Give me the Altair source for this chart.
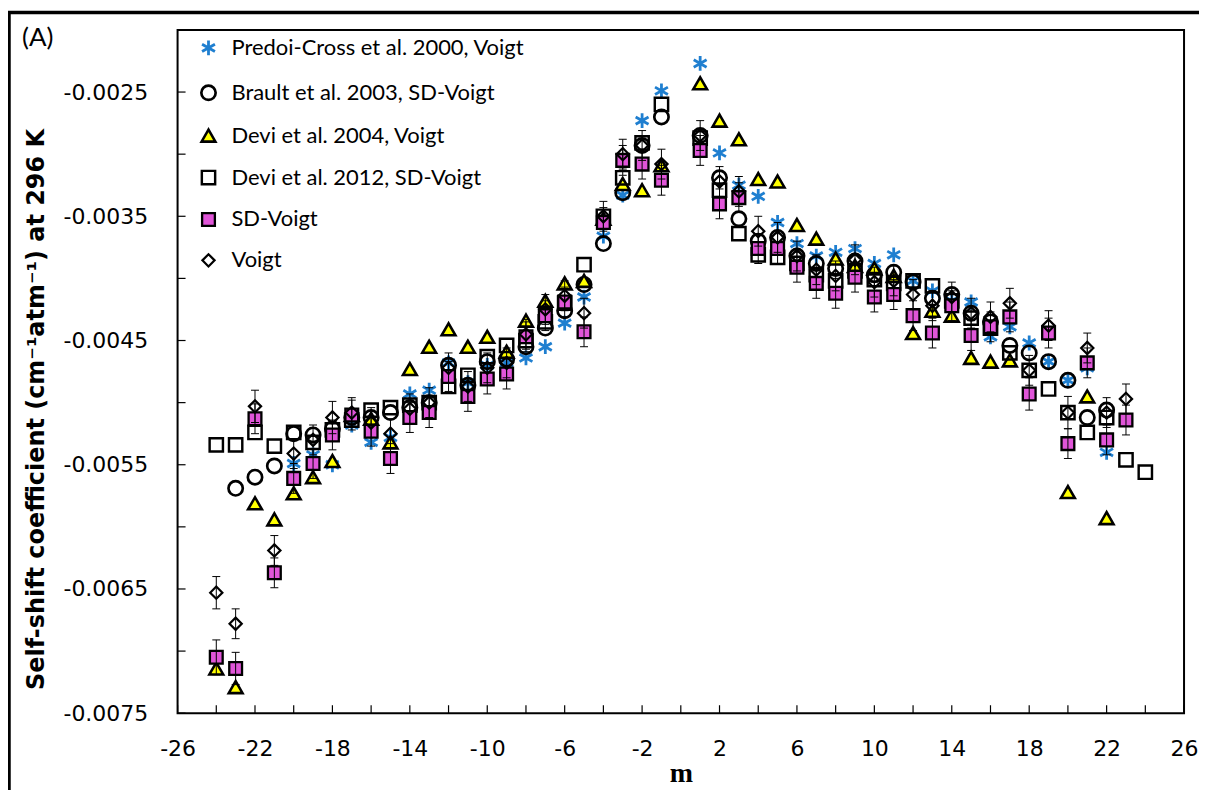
import altair as alt
import pandas as pd

# ---------------- data ----------------
SERIES = [
    "Predoi-Cross et al. 2000, Voigt",
    "Brault et al. 2003, SD-Voigt",
    "Devi et al. 2004, Voigt",
    "Devi et al. 2012, SD-Voigt",
    "SD-Voigt",
    "Voigt",
]

pc_m = [-20, -19, -18, -17, -16, -15, -14, -13, -12, -11, -10, -9, -8, -7, -6, -5, -4, -3, -2, -1,
        1, 2, 3, 4, 5, 6, 7, 8, 9, 10, 11, 12, 13, 14, 15, 16, 17, 18, 19, 20, 21, 22]
pc_v = [-0.00549, -0.00542, -0.00550, -0.00518, -0.00532, -0.00528, -0.00493, -0.00490, -0.00468, -0.00484,
        -0.00470, -0.00468, -0.00464, -0.00455, -0.00436, -0.00415, -0.00366, -0.00333, -0.00273, -0.00249,
        -0.00227, -0.00299, -0.00325, -0.00334, -0.00355, -0.00372, -0.00382, -0.00379, -0.00376, -0.00388,
        -0.00381, -0.00402, -0.00410, -0.00418, -0.00419, -0.00447, -0.00439, -0.00452, -0.00467, -0.00482,
        -0.00472, -0.00540]

br_m = [-23, -22, -21, -20, -19, -18, -17, -16, -15, -14, -13, -12, -11, -10, -9, -8, -7, -6, -5, -4, -3, -2, -1,
        1, 2, 3, 4, 5, 6, 7, 8, 9, 10, 11, 12, 13, 14, 15, 16, 17, 18, 19, 20, 21, 22]
br_v = [-0.00569, -0.00560, -0.00551, -0.00525, -0.00526, -0.00521, -0.00512, -0.00512, -0.00508, -0.00504,
        -0.00500, -0.00470, -0.00486, -0.00467, -0.00465, -0.00455, -0.00440, -0.00426, -0.00405, -0.00372,
        -0.00331, -0.00293, -0.00270,
        -0.00285, -0.00319, -0.00352, -0.00370, -0.00367, -0.00382, -0.00388, -0.00392, -0.00386, -0.00397,
        -0.00395, -0.00403, -0.00416, -0.00413, -0.00428, -0.00435, -0.00454, -0.00460, -0.00467, -0.00482,
        -0.00512, -0.00506]

d04_m = [-24, -23, -22, -21, -20, -19, -18, -17, -16, -15, -14, -13, -12, -11, -10, -9, -8, -7, -6, -5, -4, -3, -2, -1,
         1, 2, 3, 4, 5, 6, 7, 8, 9, 10, 11, 12, 13, 14, 15, 16, 17, 20, 21, 22]
d04_v = [-0.00714, -0.00729, -0.00581, -0.00594, -0.00573, -0.00560, -0.00547, -0.00510, -0.00513, -0.00532,
         -0.00473, -0.00455, -0.00441, -0.00455, -0.00447, -0.00459, -0.00434, -0.00418, -0.00404, -0.00402,
         -0.00352, -0.00324, -0.00329, -0.00309,
         -0.00243, -0.00273, -0.00288, -0.00320, -0.00322, -0.00357, -0.00368, -0.00384, -0.00390, -0.00392,
         -0.00398, -0.00444, -0.00426, -0.00430, -0.00464, -0.00467, -0.00466, -0.00572, -0.00495, -0.00593]

d12_m = [-24, -23, -22, -21, -20, -19, -18, -17, -16, -15, -14, -13, -12, -11, -10, -9, -8, -7, -6, -5, -4, -3, -2, -1,
         1, 2, 3, 4, 5, 6, 7, 8, 9, 10, 11, 12, 13, 14, 15, 16, 17, 18, 19, 20, 21, 22, 23, 24]
d12_v = [-0.00534, -0.00534, -0.00524, -0.00535, -0.00524, -0.00532, -0.00522, -0.00514, -0.00506, -0.00504,
         -0.00502, -0.00500, -0.00487, -0.00478, -0.00463, -0.00454, -0.00450, -0.00435, -0.00420, -0.00389,
         -0.00350, -0.00319, -0.00291, -0.00260,
         -0.00287, -0.00329, -0.00364, -0.00381, -0.00383, -0.00388, -0.00397, -0.00402, -0.00394, -0.00401,
         -0.00404, -0.00402, -0.00406, -0.00418, -0.00432, -0.00440, -0.00460, -0.00474, -0.00489, -0.00508,
         -0.00524, -0.00512, -0.00546, -0.00556]

sd_m = [-24, -23, -22, -21, -20, -19, -18, -17, -16, -15, -14, -13, -12, -11, -10, -9, -8, -7, -6, -5, -4, -3, -2, -1,
        1, 2, 3, 4, 5, 6, 7, 8, 9, 10, 11, 12, 13, 14, 15, 16, 17, 18, 19, 20, 21, 22, 23]
sd_v = [-0.00705, -0.00714, -0.00513, -0.00637, -0.00561, -0.00549, -0.00526, -0.00510, -0.00523, -0.00545,
        -0.00512, -0.00508, -0.00479, -0.00495, -0.00481, -0.00477, -0.00447, -0.00430, -0.00419, -0.00443,
        -0.00355, -0.00305, -0.00308, -0.00321,
        -0.00297, -0.00340, -0.00335, -0.00376, -0.00376, -0.00391, -0.00404, -0.00412, -0.00399, -0.00415,
        -0.00413, -0.00430, -0.00444, -0.00422, -0.00446, -0.00439, -0.00431, -0.00493, -0.00444, -0.00533,
        -0.00468, -0.00530, -0.00514]
sd_err = [0.00014, 0.00013, 0.00012, 0.00012, 0.00012, 0.00012, 0.00012, 0.00012, 0.00012, 0.00012,
          0.00012, 0.00012, 0.00012, 0.00012, 0.00012, 0.00012, 0.00012, 0.00012, 0.00012, 0.00012,
          0.00012, 0.00012, 0.00012, 0.00012,
          0.00012, 0.00012, 0.00012, 0.00012, 0.00012, 0.00012, 0.00012, 0.00012, 0.00012, 0.00012,
          0.00012, 0.00012, 0.00012, 0.00012, 0.00012, 0.00012, 0.00012, 0.00013, 0.00012, 0.00012,
          0.00012, 0.00012, 0.00012]

vo_m = sd_m
vo_v = [-0.00653, -0.00678, -0.00503, -0.00619, -0.00541, -0.00530, -0.00512, -0.00508, -0.00516, -0.00525,
        -0.00505, -0.00500, -0.00472, -0.00487, -0.00472, -0.00468, -0.00445, -0.00425, -0.00414, -0.00428,
        -0.00350, -0.00300, -0.00293, -0.00308,
        -0.00285, -0.00322, -0.00330, -0.00362, -0.00367, -0.00382, -0.00393, -0.00398, -0.00385, -0.00403,
        -0.00402, -0.00413, -0.00422, -0.00415, -0.00428, -0.00431, -0.00420, -0.00474, -0.00438, -0.00508,
        -0.00456, -0.00508, -0.00497]
vo_err = [0.00013, 0.00012, 0.00013, 0.00012, 0.00012, 0.00012, 0.00013, 0.00012, 0.00012, 0.00012,
          0.00012, 0.00012, 0.00012, 0.00012, 0.00012, 0.00012, 0.00012, 0.00012, 0.00012, 0.00012,
          0.00012, 0.00012, 0.00012, 0.00012,
          0.00012, 0.00012, 0.00012, 0.00012, 0.00012, 0.00012, 0.00012, 0.00012, 0.00012, 0.00012,
          0.00012, 0.00012, 0.00012, 0.00012, 0.00012, 0.00012, 0.00012, 0.00012, 0.00012, 0.00013,
          0.00012, 0.00012, 0.00012]

X_LABELS = [-26, -22, -18, -14, -10, -6, -2, 2, 6, 10, 14, 18, 22, 26]
X_TICKS = list(range(-26, 27, 2))
Y_LABELS = [-0.0075, -0.0065, -0.0055, -0.0045, -0.0035, -0.0025]
Y_TICKS = [-0.0075, -0.007, -0.0065, -0.006, -0.0055, -0.005, -0.0045, -0.004, -0.0035, -0.003, -0.0025, -0.002]
PANEL = "(A)"
Y_TITLE = "Self-shift coefficient (cm\u207b\u00b9atm\u207b\u00b9) at 296 K"
X_TITLE = "m"

# ---------------- tables ----------------
rows = []
for name, ms, vs in [
    (SERIES[0], pc_m, pc_v), (SERIES[1], br_m, br_v), (SERIES[2], d04_m, d04_v),
    (SERIES[3], d12_m, d12_v), (SERIES[4], sd_m, sd_v), (SERIES[5], vo_m, vo_v),
]:
    for m, v in zip(ms, vs):
        rows.append({"m": m, "v": v, "series": name})
pts = pd.DataFrame(rows)

err_rows = []
for ms, vs, es in [(sd_m, sd_v, sd_err), (vo_m, vo_v, vo_err)]:
    for m, v, e in zip(ms, vs, es):
        err_rows.append({"m": m, "lo": v - e, "hi": v + e})
errs = pd.DataFrame(err_rows)

ASTERISK = "M0,-1L0,1M-0.87,-0.5L0.87,0.5M-0.87,0.5L0.87,-0.5"

W, H = 1009, 685
xs = alt.Scale(domain=[-26, 26], nice=False, zero=False)
ys = alt.Scale(domain=[-0.0075, -0.002], nice=False, zero=False)

leg = alt.Legend(title=None, orient="none", legendX=20, legendY=7, padding=0,
                 labelFont="Lato", labelFontSize=22, labelColor="black", labelLimit=500,
                 labelOffset=12, rowPadding=18)

x_axis = alt.Axis(values=X_LABELS, title=X_TITLE, titleFont="Liberation Serif", titleFontSize=28,
                  titleFontWeight="bold", titleColor="black", titleY=68, titleBaseline="alphabetic",
                  labelFont="DejaVu Sans", labelFontSize=22, labelColor="black", labelPadding=25,
                  labelFlush=False, ticks=False, tickSize=0, domain=False, grid=False,
                  labelExpr="datum.value < 0 ? '-' + format(-datum.value, 'd') : format(datum.value, 'd')")
y_axis = alt.Axis(values=Y_LABELS, title=Y_TITLE, titleFont="DejaVu Sans", titleFontSize=24,
                  titleFontWeight="bold", titleColor="black", titleX=-141, titleY=380,
                  titleAlign="center", titleBaseline="middle",
                  labelFont="DejaVu Sans", labelFontSize=22, labelColor="black", labelPadding=30,
                  labelFlush=False, ticks=False, tickSize=0, domain=False, grid=False,
                  labelExpr="datum.value < 0 ? '-' + format(-datum.value, '.4f') : format(datum.value, '.4f')")

X = lambda f: alt.X(f, scale=xs, axis=x_axis)
Y = lambda f: alt.Y(f, scale=ys, axis=y_axis)

points = alt.Chart(pts).mark_point(opacity=1, filled=False).encode(
    x=X("m:Q"),
    y=Y("v:Q"),
    shape=alt.Shape("series:N", scale=alt.Scale(domain=SERIES,
                    range=[ASTERISK, "circle", "triangle-up", "square", "square", "diamond"]), legend=leg),
    stroke=alt.Stroke("series:N", scale=alt.Scale(domain=SERIES,
                      range=["#1f7fd0", "black", "black", "black", "black", "black"]), legend=leg),
    fill=alt.Fill("series:N", scale=alt.Scale(domain=SERIES,
                  range=["transparent", "transparent", "#ffff00", "transparent", "#e055d8", "transparent"]), legend=leg),
    size=alt.Size("series:N", scale=alt.Scale(domain=SERIES, range=[220, 150, 150, 190, 170, 100]), legend=leg),
    strokeWidth=alt.StrokeWidth("series:N", scale=alt.Scale(domain=SERIES, range=[2.8, 2.2, 2.2, 2.2, 2.2, 1.8]), legend=leg),
)

err_rule = alt.Chart(errs).mark_rule(color="black", strokeWidth=1).encode(
    x=X("m:Q"), y=Y("lo:Q"), y2="hi:Q")
cap_lo = alt.Chart(errs).mark_tick(orient="horizontal", size=8, thickness=1, color="black", opacity=1).encode(
    x=X("m:Q"), y=Y("lo:Q"))
cap_hi = alt.Chart(errs).mark_tick(orient="horizontal", size=8, thickness=1, color="black", opacity=1).encode(
    x=X("m:Q"), y=Y("hi:Q"))

xt = pd.DataFrame({"t": X_TICKS})
yt = pd.DataFrame({"t": Y_TICKS})
x_ticks = alt.Chart(xt).mark_rule(color="black", strokeWidth=1.2).encode(
    x=X("t:Q"), y=alt.value(H), y2=alt.value(H - 8))
y_ticks = alt.Chart(yt).mark_rule(color="black", strokeWidth=1.2).encode(
    y=Y("t:Q"), x=alt.value(0), x2=alt.value(8))

panel = alt.Chart(pd.DataFrame({"label": [PANEL]})).mark_text(
    font="Lato", fontSize=26, align="left", baseline="alphabetic", color="black").encode(
    text="label:N", x=alt.value(-156), y=alt.value(16))

frame = alt.Chart(pd.DataFrame({"a": [0]})).mark_rect(
    filled=False, stroke="black", strokeWidth=3.5).encode(
    x=alt.value(-169), x2=alt.value(W + 60), y=alt.value(-17.5), y2=alt.value(H + 120))

chart = alt.layer(points, err_rule, cap_lo, cap_hi, x_ticks, y_ticks, panel, frame).properties(
    width=W, height=H,
    padding={"left": 170, "top": 21, "right": 15, "bottom": 76},
    autosize=alt.AutoSizeParams(type="none"),
    background="white",
).configure_view(stroke="black", strokeWidth=2)

chart.save("out.html", embed_options={"renderer": "svg", "actions": False})
